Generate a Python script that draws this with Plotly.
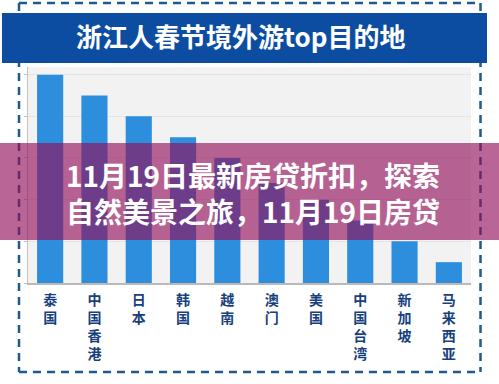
import plotly.graph_objects as go

categories = ["泰国", "中国香港", "日本", "韩国", "越南", "澳门", "美国", "中国台湾", "新加坡", "马来西亚"]
values = [5.0, 4.5, 4.0, 3.5, 3.0, 2.4, 2.0, 1.5, 1.0, 0.5]
title_text = "浙江人春节境外游top目的地"
overlay_text = "11月19日最新房贷折扣，探索<br>自然美景之旅，11月19日房贷"

W, H = 499, 384
L, R, T, B = 28, 28, 67, 101
PW, PH = W - L - R, H - T - B

def px(x):
    return (x - L) / PW

def py(y):
    return (H - B - y) / PH

tick_labels = ["<br>".join(list(c)) for c in categories]

fig = go.Figure(go.Bar(
    x=categories, y=values,
    marker=dict(color="#2e8ede", line=dict(width=0)),
    width=0.59,
    hoverinfo="skip",
))

frame = dict(color="#1d5b8f", width=2.5, dash="8px,6px")
shapes = [
    dict(type="line", xref="paper", yref="paper", x0=px(19), x1=px(481), y0=py(3), y1=py(3), line=frame, layer="above"),
    dict(type="line", xref="paper", yref="paper", x0=px(19), x1=px(19), y0=py(3), y1=py(372), line=frame, layer="above"),
    dict(type="line", xref="paper", yref="paper", x0=px(480.5), x1=px(480.5), y0=py(3), y1=py(372), line=frame, layer="above"),
    dict(type="line", xref="paper", yref="paper", x0=px(19), x1=px(481), y0=py(372), y1=py(372), line=frame, layer="above"),
    dict(type="rect", xref="paper", yref="paper", x0=px(2), x1=px(487), y0=py(13), y1=py(63),
         fillcolor="#0c4da2", line=dict(width=0), layer="above"),
    dict(type="rect", xref="paper", yref="paper", x0=px(0), x1=px(499), y0=py(143), y1=py(240),
         fillcolor="rgba(145,15,90,0.64)", line=dict(width=0), layer="above"),
]

annotations = [
    dict(text=title_text, xref="paper", yref="paper", x=px(240), y=py(35), showarrow=False,
         xanchor="center", yanchor="middle",
         font=dict(family="Noto Sans CJK SC", size=26, color="white", weight="bold")),
    dict(text=overlay_text, xref="paper", yref="paper", x=px(253), y=py(193), showarrow=False,
         xanchor="center", yanchor="middle",
         font=dict(family="Noto Sans CJK SC", size=28, color="white", weight="bold")),
]

fig.update_layout(
    width=W, height=H,
    margin=dict(l=L, r=R, t=T, b=B, pad=0, autoexpand=False),
    paper_bgcolor="white",
    plot_bgcolor="#f3f2f2",
    showlegend=False,
    shapes=shapes,
    annotations=annotations,
    xaxis=dict(
        tickmode="array", tickvals=categories, ticktext=tick_labels,
        showline=True, linecolor="#bdb8b8", linewidth=1.5,
        ticks="", showgrid=False, automargin=False,
        tickfont=dict(family="Noto Sans CJK SC", size=14, color="#173f7e", weight="bold"),
        ticklabelstandoff=3,
        fixedrange=True,
    ),
    yaxis=dict(
        range=[0, PH / 41.67], dtick=1,
        showticklabels=False, automargin=False,
        showline=True, linecolor="#c8c0c0", linewidth=1,
        ticks="outside", ticklen=3, tickcolor="#c8c0c0",
        showgrid=True, gridcolor="#e4e4e4", gridwidth=1,
        zeroline=False,
        fixedrange=True,
    ),
)

fig.write_html(
    "out.html",
    config={"displayModeBar": False},
    post_script="document.body.style.margin='0';document.body.style.overflow='hidden';",
)
